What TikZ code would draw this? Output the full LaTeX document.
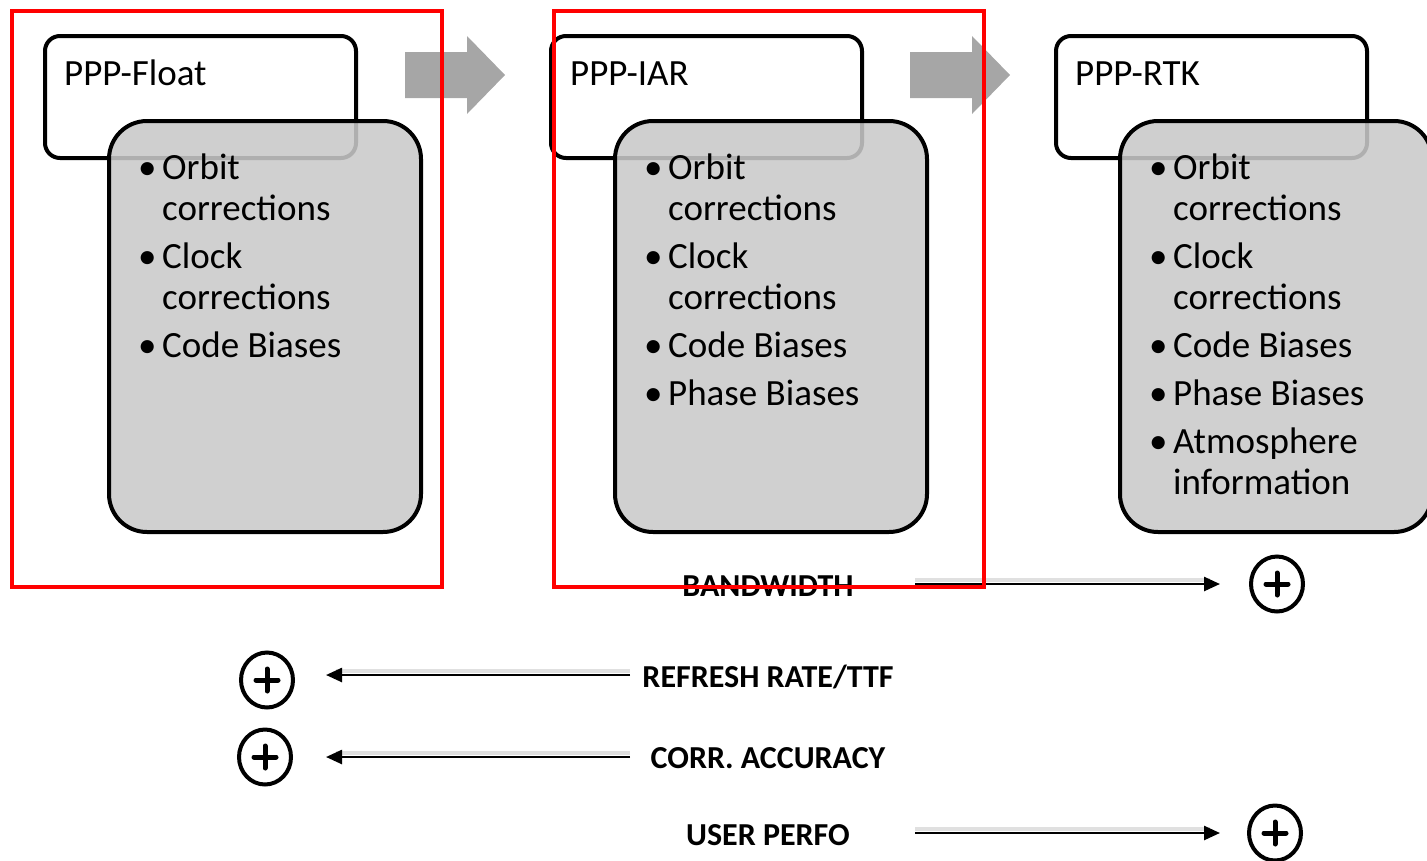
\documentclass[tikz,border=0pt]{standalone}
\usepackage{fontspec}
\setmainfont{Carlito}
\usetikzlibrary{arrows.meta,shapes.geometric}
\definecolor{boxgray}{RGB}{201,201,201}
\definecolor{arrgray}{RGB}{166,166,166}
\definecolor{framered}{RGB}{255,0,0}
\newcommand\bitem[1]{\par\hangindent=24pt\hangafter=1\noindent\makebox[24pt][l]{\textbullet}#1}
\newcommand\blist[1]{\begin{minipage}[t]{290pt}\fontsize{37}{41}\selectfont\parskip=7pt\relax#1\end{minipage}}
\begin{document}
\begin{tikzpicture}[x=1pt,y=-1pt,
  hdrbox/.style={draw=black, line width=4pt, rounded corners=15pt, fill=white,
    minimum width=311pt, minimum height=122pt, anchor=north west, inner sep=0pt},
  listbox/.style={draw=black, line width=4pt, rounded corners=38pt, fill=boxgray,
    fill opacity=0.875, draw opacity=1, minimum width=312pt, minimum height=411pt,
    anchor=north west, inner sep=0pt},
  hdrtext/.style={anchor=base west, inner sep=0pt, font=\fontsize{37}{41}\selectfont},
  listtext/.style={anchor=base west, inner sep=0pt},
  bigarrow/.style={fill=arrgray, draw=none},
  redframe/.style={draw=framered, line width=4pt},
  lbl/.style={anchor=base, inner sep=0pt, font=\fontsize{32}{34}\selectfont\bfseries},
  plusc/.style={draw=black, line width=4pt, ellipse, minimum width=52pt, minimum height=55pt, inner sep=0pt},
  conn/.style={line width=2.5pt, -{Triangle[length=16pt,width=14pt]}},
  shad/.style={line width=4pt, draw=black!12}
]
\useasboundingbox (0,0) rectangle (1427,860);

% ---- column 1
\node[hdrbox] (h1) at (43,34) {};
\node[hdrtext] (t1) at (64,85) {PPP-Float};
\node[listbox] (g1) at (107,119) {};
\node[listtext] (l1) at (138,179) {\blist{\bitem{Orbit\\corrections}\bitem{Clock\\corrections}\bitem{Code Biases}}};

% ---- column 2
\node[hdrbox] (h2) at (549,34) {};
\node[hdrtext] (t2) at (570,85) {PPP-IAR};
\node[listbox] (g2) at (613,119) {};
\node[listtext] (l2) at (644,179) {\blist{\bitem{Orbit\\corrections}\bitem{Clock\\corrections}\bitem{Code Biases}\bitem{Phase Biases}}};

% ---- column 3
\node[hdrbox] (h3) at (1054,34) {};
\node[hdrtext] (t3) at (1075,85) {PPP-RTK};
\node[listbox] (g3) at (1118,119) {};
\node[listtext] (l3) at (1149,179) {\blist{\bitem{Orbit\\corrections}\bitem{Clock\\corrections}\bitem{Code Biases}\bitem{Phase Biases}\bitem{Atmosphere\\information}}};

% ---- big gray arrows
\fill[bigarrow] (405,52) -- (467,52) -- (467,36) -- (505,75) -- (467,114) -- (467,98) -- (405,98) -- cycle;
\fill[bigarrow] (910,52) -- (972,52) -- (972,36) -- (1010,75) -- (972,114) -- (972,98) -- (910,98) -- cycle;

% ---- labels and plus circles
\node[lbl] (bw) at (768,596) {BANDWIDTH};
\node[lbl] (rr) at (768,687) {REFRESH RATE/TTF};
\node[lbl] (ca) at (768,768) {CORR. ACCURACY};
\node[lbl] (up) at (768,845) {USER PERFO};

\node[plusc] (pbw) at (1277,584) {};
\node[plusc] (prr) at (267,680) {};
\node[plusc] (pca) at (265,757) {};
\node[plusc] (pup) at (1275,833) {};
\foreach \p in {pbw,prr,pca,pup}{
  \draw[line width=5pt, line cap=round] ([xshift=-11pt]\p.center) -- ([xshift=11pt]\p.center);
  \draw[line width=5pt, line cap=round] ([yshift=-11pt]\p.center) -- ([yshift=11pt]\p.center);
}

\coordinate (bwA) at (915,584);  \coordinate (bwB) at (1220,584);
\coordinate (rrA) at (630,675);  \coordinate (rrB) at (326,675);
\coordinate (caA) at (630,757);  \coordinate (caB) at (326,757);
\coordinate (upA) at (915,833);  \coordinate (upB) at (1220,833);

\draw[shad] ([yshift=4pt]bwA) -- ([yshift=4pt,xshift=-10pt]bwB);
\draw[shad] ([yshift=4pt]rrA) -- ([yshift=4pt,xshift=10pt]rrB);
\draw[shad] ([yshift=4pt]caA) -- ([yshift=4pt,xshift=10pt]caB);
\draw[shad] ([yshift=4pt]upA) -- ([yshift=4pt,xshift=-10pt]upB);

\draw[conn] (bwA) -- (bwB);
\draw[conn] (rrA) -- (rrB);
\draw[conn] (caA) -- (caB);
\draw[conn] (upA) -- (upB);

% ---- red frames
\draw[redframe] (12,11) rectangle (442,587);
\draw[redframe] (554,11) rectangle (984,587);
\end{tikzpicture}
\end{document}
